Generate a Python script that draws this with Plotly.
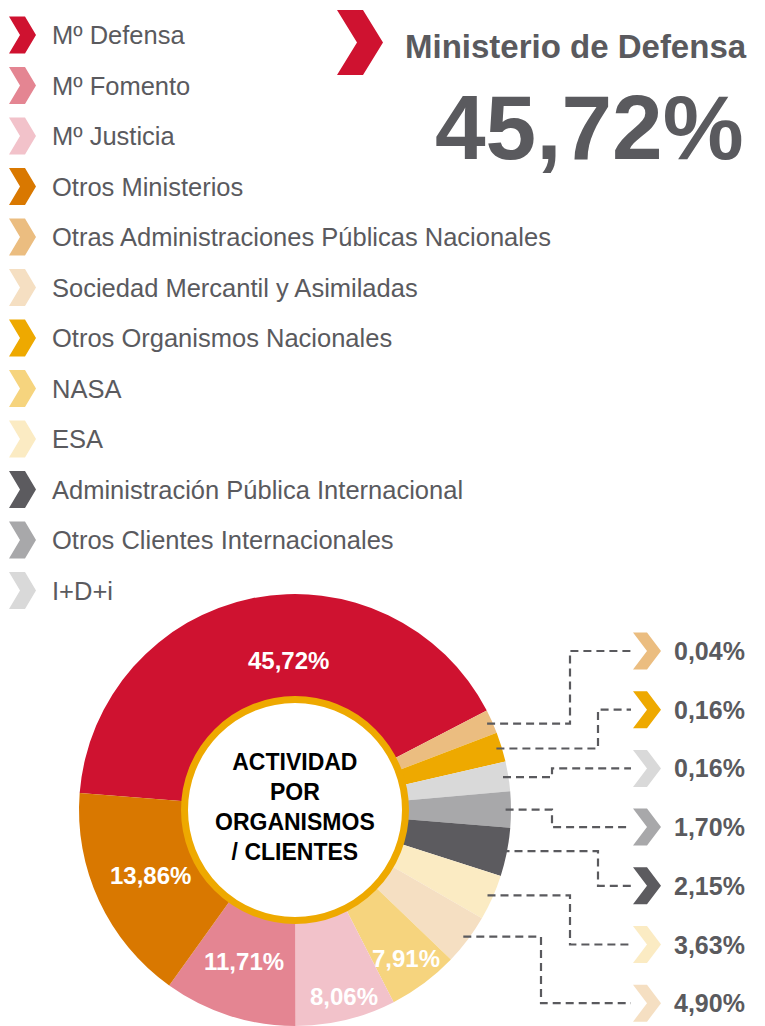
import math
import plotly.graph_objects as go

# ---------------- data ----------------
categories = [
    "Mº Defensa", "Mº Fomento", "Mº Justicia", "Otros Ministerios",
    "Otras Administraciones Públicas Nacionales", "Sociedad Mercantil y Asimiladas",
    "Otros Organismos Nacionales", "NASA", "ESA",
    "Administración Pública Internacional", "Otros Clientes Internacionales", "I+D+i",
]
# slices in drawing order (clockwise from the left edge of the red slice)
slice_labels = [
    "Mº Defensa", "Otras Administraciones Públicas Nacionales", "Otros Organismos Nacionales",
    "I+D+i", "Otros Clientes Internacionales", "Administración Pública Internacional",
    "ESA", "Sociedad Mercantil y Asimiladas", "NASA", "Mº Justicia", "Mº Fomento",
    "Otros Ministerios",
]
slice_shares = [45.72, 0.04, 0.16, 0.16, 1.70, 2.15, 3.63, 4.90, 7.91, 8.06, 11.71, 13.86]
# angular size of each slice as drawn in the picture (the original is not to scale)
slice_drawn = [147.9, 6.4, 8.0, 8.0, 9.7, 13.0, 12.3, 13.7, 19.0, 27.0, 35.7, 58.8]
inside_labelled = ["Mº Defensa", "Otros Ministerios", "Mº Fomento", "Mº Justicia", "NASA"]
callout_labelled = ["Otras Administraciones Públicas Nacionales", "Otros Organismos Nacionales",
                    "I+D+i", "Otros Clientes Internacionales",
                    "Administración Pública Internacional", "ESA",
                    "Sociedad Mercantil y Asimiladas"]
title_text = "Ministerio de Defensa"
center_lines = ["ACTIVIDAD", "POR", "ORGANISMOS", "/ CLIENTES"]

# ---------------- style ----------------
colors = {
    "Mº Defensa": "#CF1230",
    "Mº Fomento": "#E48592",
    "Mº Justicia": "#F2C2CA",
    "Otros Ministerios": "#D97800",
    "Otras Administraciones Públicas Nacionales": "#EBBD80",
    "Sociedad Mercantil y Asimiladas": "#F5DFC2",
    "Otros Organismos Nacionales": "#EEA900",
    "NASA": "#F6D47E",
    "ESA": "#FBEBC3",
    "Administración Pública Internacional": "#5C5B5F",
    "Otros Clientes Internacionales": "#A8A8AA",
    "I+D+i": "#D9D9D9",
}
GREY = "#5A5A5E"
FONT = "Liberation Sans, Arial, sans-serif"
W, H = 765, 1026
CX, CY, R = 295, 810, 216
RING_R, RING_W = 114, 7
START = 274.5  # compass angle where the first slice starts
# placement of the in-slice labels: (compass angle, radius as fraction of R)
inside_pos = {
    "Mº Defensa": (357.7, 0.695),
    "Otros Ministerios": (245.8, 0.735),
    "Mº Fomento": (198.7, 0.742),
    "Mº Justicia": (165.2, 0.893),
    "NASA": (143.4, 0.858),
}
elbows = [570, 598, 552, 552, 598, 570, 541]


def fmt(v):
    return f"{v:.2f}".replace(".", ",") + "%"


def chevron(x, yc, w, h, d):
    t, b = yc - h / 2, yc + h / 2
    return (f"M {x},{t} L {x + w - d},{t} L {x + w},{yc} L {x + w - d},{b} "
            f"L {x},{b} L {x + d},{yc} Z")


fig = go.Figure()

# invisible trace so the pixel-based helper axes exist
fig.add_trace(go.Scatter(x=[0], y=[0], mode="markers", marker=dict(opacity=0),
                         hoverinfo="skip", showlegend=False))

fig.add_trace(go.Pie(
    labels=slice_labels,
    values=slice_drawn,
    customdata=[fmt(v) for v in slice_shares],
    textinfo="none",
    marker=dict(colors=[colors[l] for l in slice_labels], line=dict(width=0)),
    sort=False,
    direction="clockwise",
    rotation=START - 360,
    hole=0.5,
    domain=dict(x=[(CX - R) / W, (CX + R) / W], y=[(H - CY - R) / H, (H - CY + R) / H]),
    showlegend=False,
    hovertemplate="%{label}: %{customdata}<extra></extra>",
))

shapes = []
annotations = []

# centre ring
rr = RING_R - RING_W / 2
shapes.append(dict(type="circle", xref="x", yref="y", x0=CX - rr, x1=CX + rr, y0=CY - rr, y1=CY + rr,
                   fillcolor="white", line=dict(color="#EEA900", width=RING_W), layer="above"))
annotations.append(dict(x=CX, y=CY - 3, xref="x", yref="y", text="<br>".join(center_lines),
                        showarrow=False, font=dict(family=FONT, size=23, color="black", weight="bold"),
                        align="center", xanchor="center", yanchor="middle"))

# labels inside the big slices
for lab, share in zip(slice_labels, slice_shares):
    if lab in inside_labelled:
        ang, fr = inside_pos[lab]
        th = math.radians(ang)
        annotations.append(dict(x=CX + fr * R * math.sin(th), y=CY - fr * R * math.cos(th),
                                xref="x", yref="y", text=fmt(share), showarrow=False,
                                font=dict(family=FONT, size=24, color="white", weight="bold"),
                                xanchor="center", yanchor="middle"))

# legend on the left
for i, c in enumerate(categories):
    yc = 35 + 50.5 * i
    shapes.append(dict(type="path", xref="x", yref="y", path=chevron(9, yc, 27, 37, 11),
                       fillcolor=colors[c], line=dict(width=0), layer="above"))
    annotations.append(dict(x=50, y=yc, xref="x", yref="y", text=c, showarrow=False,
                            font=dict(family=FONT, size=25.5, color=GREY),
                            xanchor="left", yanchor="middle"))

# headline
shapes.append(dict(type="path", xref="x", yref="y", path=chevron(337, 42.5, 46, 65, 20),
                   fillcolor=colors["Mº Defensa"], line=dict(width=0), layer="above"))
annotations.append(dict(x=749, y=46, xref="x", yref="y", text=title_text, showarrow=False,
                        font=dict(family=FONT, size=33, color=GREY, weight="bold"),
                        xanchor="right", yanchor="middle"))
annotations.append(dict(x=746, y=127, xref="x", yref="y", text=fmt(slice_shares[0]), showarrow=False,
                        font=dict(family=FONT, size=91, color=GREY, weight="bold"),
                        xanchor="right", yanchor="middle"))

# call-outs for the small slices
total = sum(slice_drawn)
cum = 0.0
mids = {}
for lab, v in zip(slice_labels, slice_drawn):
    mids[lab] = START + (cum + v / 2) / total * 360
    cum += v
for k, lab in enumerate(callout_labelled):
    th = math.radians(mids[lab])
    x0 = CX + 0.975 * R * math.sin(th)
    y0 = CY - 0.975 * R * math.cos(th)
    yr = 651 + 58.7 * k
    xe = elbows[k]
    shapes.append(dict(type="path", xref="x", yref="y",
                       path=f"M {x0:.1f},{y0:.1f} L {xe},{y0:.1f} L {xe},{yr} L 631,{yr}",
                       line=dict(color=GREY, width=2.2, dash="8px,5px"), layer="above"))
    shapes.append(dict(type="path", xref="x", yref="y", path=chevron(633, yr, 28, 37, 14),
                       fillcolor=colors[lab], line=dict(width=0), layer="above"))
    annotations.append(dict(x=672, y=yr, xref="x", yref="y",
                            text=fmt(slice_shares[slice_labels.index(lab)]),
                            showarrow=False, font=dict(family=FONT, size=25, color=GREY, weight="bold"),
                            xanchor="left", yanchor="middle"))

fig.update_layout(
    width=W, height=H,
    margin=dict(l=0, r=0, t=0, b=0),
    paper_bgcolor="white", plot_bgcolor="white",
    font=dict(family=FONT),
    xaxis=dict(range=[0, W], visible=False, fixedrange=True, domain=[0, 1]),
    yaxis=dict(range=[H, 0], visible=False, fixedrange=True, domain=[0, 1]),
    shapes=shapes,
    annotations=annotations,
    showlegend=False,
)

fig.write_html("out.html", config={"displayModeBar": False},
               post_script="document.body.style.margin='0';")
